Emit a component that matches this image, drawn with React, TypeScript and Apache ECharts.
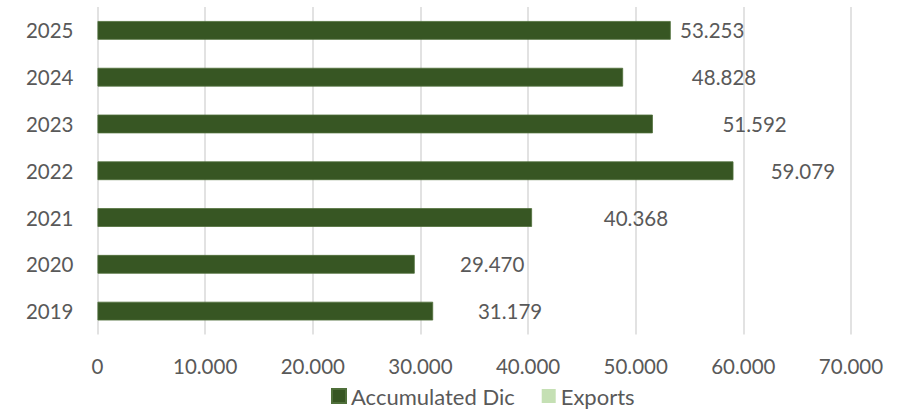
import React, { useEffect, useRef } from "react";
import * as echarts from "echarts";

const categories = ["2019", "2020", "2021", "2022", "2023", "2024", "2025"];
const accumulatedDic = [31179, 29470, 40368, 59079, 51592, 48828, 53253];
// Exports segments (unfilled in the reference) that carry the value labels
const exportsValues = [14300, 14400, 19300, 12900, 18900, 18750, 7700];
const xTicks = [0, 10000, 20000, 30000, 40000, 50000, 60000, 70000];

const fmt = (v: number) =>
  String(Math.round(v)).replace(/\B(?=(\d{3})+(?!\d))/g, ".");

export default function App() {
  const ref = useRef<HTMLDivElement>(null);
  useEffect(() => {
    if (!ref.current) return;
    const chart = echarts.init(ref.current, null, { renderer: "svg" });
    const font = "Lato, 'Open Sans', sans-serif";
    chart.setOption({
      animation: false,
      textStyle: { fontFamily: font },
      grid: { left: 97.5, right: 61, top: 7, bottom: 77.5, containLabel: false },
      xAxis: {
        type: "value",
        min: xTicks[0],
        max: xTicks[xTicks.length - 1],
        interval: 10000,
        axisLine: { show: false },
        axisTick: { show: false },
        splitLine: { show: true, lineStyle: { color: "#d9d9d9", width: 1.5 } },
        axisLabel: {
          color: "#595959",
          fontSize: 20.5,
          fontFamily: font,
          margin: 21,
          formatter: (v: number) => fmt(v),
        },
      },
      yAxis: {
        type: "category",
        data: categories,
        axisLine: { show: false },
        axisTick: { show: false },
        axisLabel: { color: "#595959", fontSize: 20.5, fontFamily: font, margin: 24 },
      },
      legend: {
        bottom: 0,
        left: 326,
        icon: "rect",
        itemWidth: 14,
        itemHeight: 14,
        itemGap: 27,
        textStyle: { color: "#595959", fontSize: 22, fontFamily: font },
        data: [
          { name: "Accumulated Dic", itemStyle: { color: "#375623" } },
          { name: "Exports", itemStyle: { color: "#c5e0b4", opacity: 1 } },
        ],
      },
      series: [
        {
          name: "Accumulated Dic",
          type: "bar",
          stack: "total",
          barWidth: "40%",
          data: accumulatedDic,
          itemStyle: { color: "#375623", borderColor: "#4f6f3a", borderWidth: 0.8 },
        },
        {
          name: "Exports",
          type: "bar",
          stack: "total",
          barWidth: "40%",
          clip: false,
          data: exportsValues,
          itemStyle: { color: "rgba(0,0,0,0)" },
          label: {
            show: true,
            position: "inside",
            color: "#595959",
            fontSize: 20.5,
            fontFamily: font,
            formatter: (p: any) => fmt(accumulatedDic[p.dataIndex]),
          },
        },
      ],
    });
    return () => chart.dispose();
  }, []);
  return (
    <div
      ref={ref}
      style={{ position: "absolute", left: 0, top: 0, width: 912, height: 412 }}
    />
  );
}
